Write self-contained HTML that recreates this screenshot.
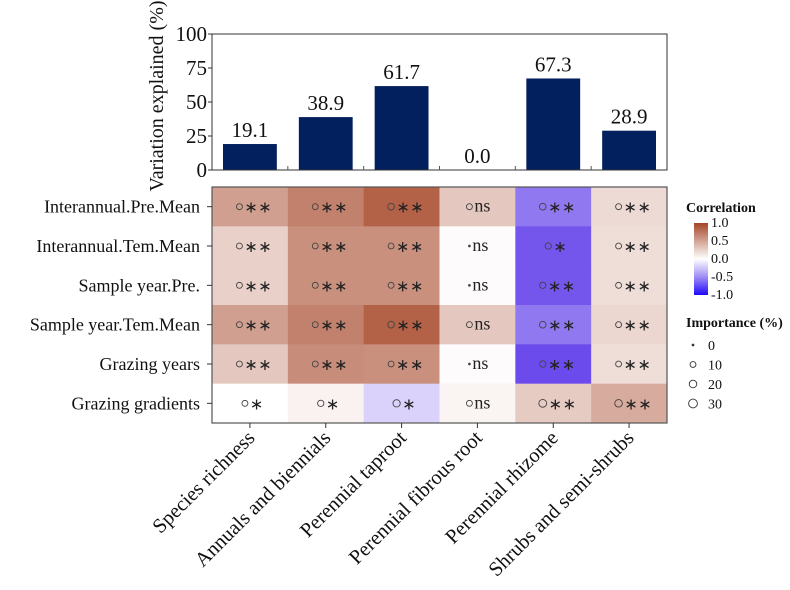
<!DOCTYPE html>
<html><head><meta charset="utf-8">
<style>
body{margin:0;background:#fff;}
svg{display:block;font-family:"Liberation Serif",serif;}
</style></head>
<body>
<svg id="c" width="790" height="590" viewBox="0 0 790 590"></svg>
<script>
const categories=["Species richness","Annuals and biennials","Perennial taproot","Perennial fibrous root","Perennial rhizome","Shrubs and semi-shrubs"];
const variationExplained=[19.1,38.9,61.7,0.0,67.3,28.9];
const rowLabels=["Interannual.Pre.Mean","Interannual.Tem.Mean","Sample year.Pre.","Sample year.Tem.Mean","Grazing years","Grazing gradients"];
const correlation=[
 [0.52,0.68,0.85,0.3,-0.6,0.2],
 [0.25,0.6,0.6,0.02,-0.75,0.18],
 [0.25,0.6,0.6,0.02,-0.75,0.18],
 [0.52,0.68,0.85,0.3,-0.6,0.22],
 [0.3,0.62,0.6,0.02,-0.8,0.18],
 [0.0,0.07,-0.2,0.06,0.28,0.45]];
const importance=[
 [10,10,14,10,14,10],
 [10,10,10,2,12,10],
 [10,10,10,2,12,10],
 [10,10,14,10,14,10],
 [10,10,10,2,12,10],
 [10,12,18,10,22,20]];
const significance=[
 ["**","**","**","ns","**","**"],
 ["**","**","**","ns","*","**"],
 ["**","**","**","ns","**","**"],
 ["**","**","**","ns","**","**"],
 ["**","**","**","ns","**","**"],
 ["*","*","*","ns","**","**"]];
const yTicks=[0,25,50,75,100];
const legendCorrTicks=[1.0,0.5,0.0,-0.5,-1.0];
const legendImportance=[0,10,20,30];

const svg=document.getElementById('c');
const NS="http://www.w3.org/2000/svg";
function mk(tag,attrs,parent){const e=document.createElementNS(NS,tag);for(const k in attrs)e.setAttribute(k,attrs[k]);(parent||svg).appendChild(e);return e;}
const X0=212,X1=667,BW=(X1-X0)/categories.length;
const BY0=170,BY1=34;
const yScale=v=>BY0+(BY1-BY0)*v/100;
const HY0=187,HY1=423,RH=(HY1-HY0)/rowLabels.length;
const xCenter=i=>X0+BW*(i+0.5);
const rScale=v=>v<=3?0.9:1+Math.sqrt(v/30)*3.4;
function lerp(a,b,t){return Math.round(a+(b-a)*t);}
function color(v){
 let c0=[255,255,255],c1;
 if(v>=0){c1=[165,70,40];}else{c1=[70,30,230];v=-v;}
 const t=Math.min(1,v);
 return `rgb(${lerp(c0[0],c1[0],t)},${lerp(c0[1],c1[1],t)},${lerp(c0[2],c1[2],t)})`;
}

// bar chart
let g=mk('g',{});


variationExplained.forEach((v,i)=>{
 const bw=BW*0.71,x=xCenter(i)-bw/2;
 const r=mk('rect',{x:x,y:yScale(v),width:bw,height:BY0-yScale(v),fill:'#03205e'},g);
 
 
 const t=mk('text',{x:xCenter(i),y:yScale(v)-7,'text-anchor':'middle','font-size':21,fill:'#111'},g);
 t.textContent=v.toFixed(1);
 
 
});
const box=mk('rect',{x:X0,y:BY1,width:X1-X0,height:BY0-BY1,fill:'none',stroke:'#333','stroke-width':1},g);


yTicks.forEach(v=>{
 mk('line',{x1:X0-4,x2:X0,y1:yScale(v),y2:yScale(v),stroke:'#333'},g);
 const t=mk('text',{x:X0-5,y:yScale(v)+7,'text-anchor':'end','font-size':21,fill:'#111'},g);
 t.textContent=v;
 
 
});
for(let i=1;i<categories.length;i++){mk('line',{x1:X0+BW*i,x2:X0+BW*i,y1:BY0,y2:BY0-4,stroke:'#555'},g);}
const yt=mk('text',{x:0,y:0,transform:'translate(163,96) rotate(-90)','text-anchor':'middle','font-size':20,fill:'#111'},g);
yt.textContent='Variation explained (%)';



// heatmap
const hm=mk('g',{});


correlation.forEach((row,r)=>{
 row.forEach((v,c)=>{
  const cell=mk('rect',{x:X0+BW*c,y:HY0+RH*r,width:BW+0.5,height:RH+0.5,fill:color(v)},hm);
  
  
  const sig=significance[r][c];
  const cx=xCenter(c),cy=HY0+RH*(r+0.5);
  const rad=rScale(importance[r][c]);
  const sigW=sig==='ns'?17:sig==='**'?22:11;
  const startX=cx-(rad*2+3+sigW)/2+2;
  const circ=mk('circle',{cx:startX+rad,cy:cy,r:rad,fill:rad<1?'#444':'none',stroke:'#444','stroke-width':0.9},hm);
  
  
  const t=mk('text',{x:startX+rad*2+2,y:sig==='ns'?cy+5:cy+6,'font-size':sig==='ns'?18:16,fill:'#222','letter-spacing':sig==='**'?'0.5':'0','font-family':sig==='ns'?'Liberation Serif,serif':'DejaVu Sans,sans-serif'},hm);
  t.textContent=sig==='ns'?'ns':sig.replace(/\*/g,'∗');
  
  
 });
});
const hb=mk('rect',{x:X0,y:HY0,width:X1-X0,height:HY1-HY0,fill:'none',stroke:'#555','stroke-width':1.2},hm);


rowLabels.forEach((l,r)=>{
 const cy=HY0+RH*(r+0.5);
 mk('line',{x1:X0-5,x2:X0,y1:cy,y2:cy,stroke:'#333'},hm);
 const t=mk('text',{x:X0-12,y:cy+6,'text-anchor':'end','font-size':18,fill:'#111'},hm);
 t.textContent=l;
 
 
});
categories.forEach((l,i)=>{
 const cx=xCenter(i);
 mk('line',{x1:cx,x2:cx,y1:HY1,y2:HY1+5,stroke:'#333'},hm);
 const t=mk('text',{x:0,y:0,transform:`translate(${cx+6},${HY1+16}) rotate(-45)`,'text-anchor':'end','font-size':20.5,fill:'#111'},hm);
 t.textContent=l;
 
 
});

// legend
const lg=mk('g',{});


const defs=mk('defs',{});
const grad=mk('linearGradient',{id:'gr',x1:0,y1:0,x2:0,y2:1},defs);
mk('stop',{offset:0,'stop-color':color(1)},grad);
mk('stop',{offset:0.25,'stop-color':color(0.5)},grad);
mk('stop',{offset:0.5,'stop-color':color(0)},grad);
mk('stop',{offset:0.75,'stop-color':'rgb(160,140,245)'},grad);
mk('stop',{offset:1,'stop-color':'rgb(30,10,250)'},grad);
const ct=mk('text',{x:686,y:212,'font-size':14,'font-weight':'bold',fill:'#111'},lg);
ct.textContent='Correlation';


const LY0=223,LY1=295;
const ramp=mk('rect',{x:694,y:LY0,width:14,height:LY1-LY0,fill:'url(#gr)'},lg);


legendCorrTicks.forEach(v=>{
 const y=LY0+(1-v)/2*(LY1-LY0);
 const t=mk('text',{x:711,y:y+4,'font-size':14,fill:'#111'},lg);
 t.textContent=v.toFixed(1);
 
 
});
const it=mk('text',{x:686,y:327,'font-size':14,'font-weight':'bold',fill:'#111'},lg);
it.textContent='Importance (%)';


legendImportance.forEach((v,i)=>{
 const y=345+i*19.5;
 const rad=rScale(v);
 const c=mk('circle',{cx:693,cy:y,r:rad,fill:rad<1?'#333':'none',stroke:'#333','stroke-width':0.9},lg);
 
 
 const t=mk('text',{x:708,y:y+5,'font-size':14,fill:'#111'},lg);
 t.textContent=v;
 
 
});
</script>
</body></html>
